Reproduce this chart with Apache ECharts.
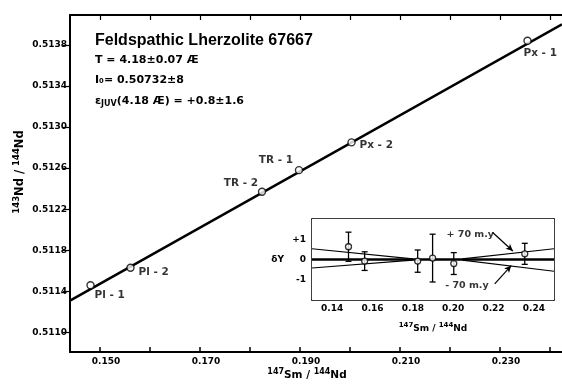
<!DOCTYPE html>
<html><head><meta charset="utf-8">
<script src="https://cdn.jsdelivr.net/npm/echarts@6/dist/echarts.min.js"></script>
<style>html,body{margin:0;padding:0;background:#fff}#c{width:562px;height:384px}</style>
</head><body><div id="c"></div>
<script>
// ---- main isochron data ----
const sampleNames = ['Pl - 1', 'Pl - 2', 'TR - 2', 'TR - 1', 'Px - 2', 'Px - 1'];
const smNd = [0.1481, 0.1561, 0.1824, 0.1898, 0.2003, 0.2355];
const ndNd = [0.51146, 0.51163, 0.51237, 0.51258, 0.51285, 0.51384];
const isochronX = [0.144, 0.2424];
const isochronY = [0.51131, 0.51400];
const xTicks = [0.15, 0.16, 0.17, 0.18, 0.19, 0.20, 0.21, 0.22, 0.23, 0.24];
const xTickLabels = [0.15, 0.17, 0.19, 0.21, 0.23];
const yTicks = [0.5110, 0.5114, 0.5118, 0.5122, 0.5126, 0.5130, 0.5134, 0.5138];
// ---- inset (deviation from isochron) ----
const insetEps = [0.63, -0.08, -0.08, 0.07, -0.20, 0.28];
const insetErr = [0.72, 0.46, 0.55, 1.18, 0.54, 0.52];
const insetXTicks = [0.14, 0.16, 0.18, 0.20, 0.22, 0.24];
const insetYTicks = [-1, 0, 1];
const zeroLineX = [0.13, 0.25];
const wedgeLeftUpper = [[0.13, 0.53], [0.180, 0.03]];
const wedgeLeftLower = [[0.13, -0.42], [0.180, -0.03]];
const wedgeRightUpper = [[0.2045, 0.03], [0.25, 0.53]];
const wedgeRightLower = [[0.2045, -0.03], [0.25, -0.58]];
const noteText = ['+ 70 m.y', '- 70 m.y'];
const noteX = [0.2085, 0.2068];
const noteY = [1.25, -1.3];
const arrowFrom = [[0.2196, 1.33], [0.2206, -1.2]];
const arrowTo = [[0.2296, 0.42], [0.2288, -0.3]];

// label placement styles (not data)
const labelStyle = [
  {align: 'left', offset: [4, 10]},
  {align: 'left', offset: [8, 5]},
  {align: 'right', offset: [-4, -8]},
  {align: 'right', offset: [-6, -10]},
  {align: 'left', offset: [8, 3]},
  {align: 'left', offset: [-4, 13]}
];

const FONT = '"DejaVu Sans", sans-serif';
const chart = echarts.init(document.getElementById('c'), null, {renderer: 'canvas'});

const blackLine = (w) => ({color: '#000', width: w});

const option = {
  backgroundColor: '#fff',
  animation: false,
  textStyle: {fontFamily: FONT, color: '#000'},
  grid: [
    {left: 70, top: 15, width: 500, height: 337},
    {left: 312, top: 219, width: 242, height: 81, show: true, backgroundColor: '#fff', borderWidth: 0, z: 5}
  ],
  xAxis: [
    {gridIndex: 0, type: 'value', min: 0.144, max: 0.2424, position: 'bottom',
     axisLine: {onZero: false, lineStyle: blackLine(2)},
     axisTick: {inside: true, length: 5, customValues: xTicks, lineStyle: blackLine(1.5)},
     axisLabel: {customValues: xTickLabels, formatter: v => v.toFixed(3), fontSize: 9, fontWeight: 'bold',
                 fontFamily: FONT, color: '#000', margin: 5, padding: [0, 0, 0, 12]},
     splitLine: {show: false}},
    {gridIndex: 0, type: 'value', min: 0.144, max: 0.2424, position: 'top',
     axisLine: {onZero: false, lineStyle: blackLine(2)},
     axisTick: {inside: true, length: 5, customValues: xTicks, lineStyle: blackLine(1.2)},
     axisLabel: {show: false}, splitLine: {show: false}},
    {gridIndex: 1, type: 'value', min: 0.13, max: 0.25, position: 'bottom',
     axisLine: {onZero: false, lineStyle: blackLine(1.5)},
     axisTick: {inside: true, length: 4, customValues: insetXTicks, lineStyle: blackLine(1.2)},
     axisLabel: {customValues: insetXTicks, formatter: v => v.toFixed(2), fontSize: 9, fontWeight: 'bold',
                 fontFamily: FONT, color: '#000', margin: 4},
     splitLine: {show: false},
     name: '{s|147}{n|Sm / }{s|144}{n|Nd}', nameLocation: 'middle', nameGap: 22,
     nameTextStyle: {rich: {n: {fontSize: 9, fontWeight: 'bold', fontFamily: FONT, color: '#000'},
                            s: {fontSize: 7, fontWeight: 'bold', fontFamily: FONT, color: '#000', padding: [0, 0, 6, 0]}}}},
    {gridIndex: 1, type: 'value', min: 0.13, max: 0.25, position: 'top',
     axisLine: {onZero: false, lineStyle: blackLine(1.5)},
     axisTick: {inside: true, length: 4, customValues: insetXTicks, lineStyle: blackLine(1.2)},
     axisLabel: {show: false}, splitLine: {show: false}}
  ],
  yAxis: [
    {gridIndex: 0, type: 'value', min: 0.51081, max: 0.51409,
     axisLine: {show: true, onZero: false, lineStyle: blackLine(2)},
     axisTick: {show: true, inside: false, length: 7, customValues: yTicks, lineStyle: blackLine(1.2)},
     axisLabel: {customValues: yTicks, formatter: v => v.toFixed(4), fontSize: 9, fontWeight: 'bold',
                 fontFamily: FONT, color: '#000', margin: 3},
     splitLine: {show: false}},
    {gridIndex: 1, type: 'value', min: -2, max: 2, position: 'left',
     axisLine: {show: true, onZero: false, lineStyle: blackLine(1.5)},
     axisTick: {show: true, inside: true, length: 4, customValues: insetYTicks, lineStyle: blackLine(1.2)},
     axisLabel: {customValues: insetYTicks, formatter: v => (v > 0 ? '+' + v : String(v)), fontSize: 9,
                 fontWeight: 'bold', fontFamily: FONT, color: '#000', margin: 6},
     splitLine: {show: false},
     name: 'δY', nameLocation: 'middle', nameRotate: 0, nameGap: 28,
     nameTextStyle: {fontSize: 9, fontWeight: 'bold', fontFamily: FONT, color: '#000'}},
    {gridIndex: 1, type: 'value', min: -2, max: 2, position: 'right',
     axisLine: {show: true, onZero: false, lineStyle: blackLine(1.5)},
     axisTick: {show: true, inside: true, length: 4, customValues: insetYTicks, lineStyle: blackLine(1.2)},
     axisLabel: {show: false}, splitLine: {show: false}}
  ],
  series: [
    {type: 'line', xAxisIndex: 0, yAxisIndex: 0, symbol: 'none', silent: true,
     data: isochronX.map((x, i) => [x, isochronY[i]]), lineStyle: blackLine(2.5), z: 2},
    {type: 'scatter', xAxisIndex: 0, yAxisIndex: 0, symbol: 'circle', symbolSize: 7, z: 3,
     itemStyle: {color: '#fff', borderColor: '#000', borderWidth: 1.4},
     data: smNd.map((x, i) => ({
       value: [x, ndNd[i]], name: sampleNames[i],
       label: {show: true, formatter: '{b}', position: 'inside', verticalAlign: 'middle',
               align: labelStyle[i].align, offset: labelStyle[i].offset,
               fontSize: 10.5, fontWeight: 'bold', fontFamily: FONT, color: '#000'}
     }))},
    // inset
    {type: 'line', xAxisIndex: 2, yAxisIndex: 1, symbol: 'none', silent: true, z: 6,
     data: zeroLineX.map(x => [x, 0]), lineStyle: blackLine(2.5)},
    ...[wedgeLeftUpper, wedgeLeftLower, wedgeRightUpper, wedgeRightLower].map(seg => ({
      type: 'line', xAxisIndex: 2, yAxisIndex: 1, symbol: 'none', silent: true, z: 6,
      data: seg, lineStyle: blackLine(1.2)})),
    {type: 'custom', xAxisIndex: 2, yAxisIndex: 1, z: 7,
     data: smNd.map((x, i) => [x, insetEps[i], insetErr[i]]),
     renderItem: (params, api) => {
       const x = api.value(0), y = api.value(1), e = api.value(2);
       const t = api.coord([x, y + e]), b = api.coord([x, y - e]);
       const st = {stroke: '#000', lineWidth: 1.3};
       return {type: 'group', children: [
         {type: 'line', shape: {x1: t[0], y1: t[1], x2: b[0], y2: b[1]}, style: st},
         {type: 'line', shape: {x1: t[0] - 3, y1: t[1], x2: t[0] + 3, y2: t[1]}, style: st},
         {type: 'line', shape: {x1: b[0] - 3, y1: b[1], x2: b[0] + 3, y2: b[1]}, style: st}
       ]};
     }},
    {type: 'scatter', xAxisIndex: 2, yAxisIndex: 1, symbol: 'circle', symbolSize: 6, z: 8,
     itemStyle: {color: '#fff', borderColor: '#000', borderWidth: 1.3},
     data: smNd.map((x, i) => [x, insetEps[i]])},
    {type: 'scatter', xAxisIndex: 2, yAxisIndex: 1, symbolSize: 0, z: 8,
     data: noteText.map((t, i) => ({value: [noteX[i], noteY[i]], name: t})),
     label: {show: true, formatter: '{b}', position: 'inside', fontSize: 9.5, fontWeight: 'bold',
             fontFamily: FONT, color: '#000'},
     markLine: {silent: true, symbol: ['none', 'arrow'], symbolSize: [5, 7], label: {show: false},
       lineStyle: {color: '#000', width: 1.2, type: 'solid'},
       data: arrowFrom.map((f, i) => [
         {coord: f, lineStyle: {curveness: i === 0 ? 0.4 : -0.4}},
         {coord: arrowTo[i]}
       ])}}
  ],
  graphic: [
    {type: 'text', x: 95, y: 41, style: {text: 'Feldspathic Lherzolite 67667', fontSize: 16, fontWeight: 'bold',
      fontFamily: '"Liberation Sans", sans-serif', fill: '#000', verticalAlign: 'middle'}},
    {type: 'text', x: 95, y: 60, style: {text: 'T = 4.18±0.07 Æ', fontSize: 11, fontWeight: 'bold',
      fontFamily: FONT, fill: '#000', verticalAlign: 'middle'}},
    {type: 'text', x: 95, y: 80, style: {text: 'I₀= 0.50732±8', fontSize: 11, fontWeight: 'bold',
      fontFamily: FONT, fill: '#000', verticalAlign: 'middle'}},
    {type: 'text', x: 95, y: 101, style: {text: '{n|ε}{s|JUV}{n|(4.18 Æ) = +0.8±1.6}', verticalAlign: 'middle',
      rich: {n: {fontSize: 11, fontWeight: 'bold', fontFamily: FONT, fill: '#000'},
             s: {fontSize: 8, fontWeight: 'bold', fontFamily: FONT, fill: '#000', padding: [6, 0, 0, 0]}}}},
    {type: 'text', x: 20, y: 172, rotation: Math.PI / 2, style: {text: '{s|143}{n|Nd / }{s|144}{n|Nd}',
      align: 'center', verticalAlign: 'middle',
      rich: {n: {fontSize: 11.5, fontWeight: 'bold', fontFamily: FONT, fill: '#000'},
             s: {fontSize: 8.5, fontWeight: 'bold', fontFamily: FONT, fill: '#000', padding: [0, 0, 7, 0]}}}},
    {type: 'text', x: 307, y: 375, style: {text: '{s|147}{n|Sm / }{s|144}{n|Nd}',
      align: 'center', verticalAlign: 'middle',
      rich: {n: {fontSize: 10.5, fontWeight: 'bold', fontFamily: FONT, fill: '#000'},
             s: {fontSize: 8, fontWeight: 'bold', fontFamily: FONT, fill: '#000', padding: [0, 0, 7, 0]}}}}
  ]
};
chart.setOption(option);
</script></body></html>
